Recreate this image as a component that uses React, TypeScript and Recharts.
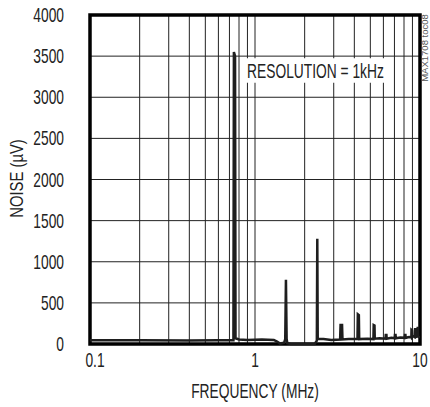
import React from 'react';
import {
  LineChart,
  Line,
  XAxis,
  YAxis,
  CartesianGrid,
  ReferenceArea,
} from 'recharts';

// Frequency (MHz) and noise (µV)
const freqMHz = [
  0.1, 0.2, 0.4, 0.6, 0.74, 0.745, 0.757, 0.762, 0.8, 0.9, 1.1, 1.3, 1.36, 1.42, 1.5,
  1.525, 1.54, 1.555, 1.57, 1.65, 2.0, 2.3, 2.37, 2.385, 2.4, 2.6, 2.9,
  3.28, 3.3, 3.37, 3.39, 3.7, 4.18, 4.2, 4.26, 4.28, 4.8, 5.22, 5.24, 5.3, 5.32, 5.7,
  6.18, 6.2, 6.26, 6.28, 6.7, 7.03, 7.05, 7.11, 7.13, 7.6, 8.08, 8.1, 8.16, 8.18, 8.6,
  8.86, 8.88, 8.94, 8.96, 9.1, 9.3, 9.33, 9.37, 9.4, 9.6, 9.68, 9.72, 9.75, 10,
];
const noiseUV = [
  45, 45, 42, 45, 45, 3550, 3500, 70, 55, 50, 55, 50, 30, 5, 15,
  60, 780, 60, 10, 0, 0, 0, 40, 1280, 60, 60, 50,
  55, 230, 230, 55, 60, 60, 360, 350, 60, 65, 60, 230, 225, 65, 70,
  65, 110, 110, 65, 75, 70, 110, 110, 70, 80, 75, 110, 110, 75, 85,
  80, 170, 165, 80, 95, 85, 180, 180, 85, 90, 195, 195, 90, 80,
];

const xTicks = [0.1, 0.2, 0.3, 0.4, 0.5, 0.6, 0.7, 0.8, 0.9, 1, 2, 3, 4, 5, 6, 7, 8, 9, 10];
const xTickLabels = ['0.1', '1', '10'];
const yTicks = [0, 500, 1000, 1500, 2000, 2500, 3000, 3500, 4000];

// annotation box extent (data coords)
const noteX = [0.823, 6.4];
const noteY = [3177, 3473];
const noteText = 'RESOLUTION = 1kHz';

const data = freqMHz.map((f, i) => ({ f, n: noiseUV[i] }));

const FONT = "'Liberation Sans', Arial, Helvetica, sans-serif";
const SIZE = 20;
const SX = 0.69;
const INK = '#222';

const XTick = (p: any) => {
  const s = String(p.payload?.value);
  if (!xTickLabels.includes(s)) return <g />;
  const dx = s === '0.1' ? 5 : 0;
  return (
    <text
      transform={`translate(${p.x + dx} ${p.y}) scale(${SX} 1)`}
      textAnchor="middle"
      fontSize={SIZE}
      fontFamily={FONT}
      fill={INK}
    >
      {s}
    </text>
  );
};

const YTick = (p: any) => (
  <text
    transform={`translate(${p.x} ${p.y + 7}) scale(${SX} 1)`}
    textAnchor="end"
    fontSize={SIZE}
    fontFamily={FONT}
    fill={INK}
  >
    {String(p.payload?.value)}
  </text>
);

export default function App() {
  return (
    <div style={{ position: 'absolute', left: 0, top: 0, width: 430, height: 407, background: '#fff' }}>
      <LineChart
        width={430}
        height={407}
        data={data}
        margin={{ top: 15, right: 10, bottom: 33, left: 30 }}
      >
        <CartesianGrid stroke="#222" strokeWidth={1} verticalValues={xTicks} horizontalValues={yTicks} />
        <XAxis
          dataKey="f"
          type="number"
          scale="log"
          domain={[0.1, 10]}
          allowDataOverflow
          ticks={xTicks}
          interval={0}
          tickLine={false}
          axisLine={false}
          tickSize={0}
          tickMargin={23}
          height={30}
          tick={XTick}
          label={{
            content: (props: any) => {
              const vb = props.viewBox || {};
              const cx = (vb.x ?? 90) + (vb.width ?? 330) / 2;
              return (
                <text
                  transform={`translate(${cx} 398) scale(${SX} 1)`}
                  textAnchor="middle"
                  fontSize={SIZE}
                  fontFamily={FONT}
                  fill={INK}
                >
                  FREQUENCY (MHz)
                </text>
              );
            },
          }}
        />
        <YAxis
          type="number"
          domain={[0, 4000]}
          ticks={yTicks}
          interval={0}
          tickLine={false}
          axisLine={false}
          tickSize={0}
          tickMargin={26}
          width={60}
          tick={YTick}
          label={{
            content: (props: any) => {
              const vb = props.viewBox || {};
              const cy = (vb.y ?? 15) + (vb.height ?? 329) / 2 - 1;
              return (
                <text
                  transform={`translate(23 ${cy}) rotate(-90) scale(0.78 1)`}
                  textAnchor="middle"
                  fontSize={19}
                  fontFamily={FONT}
                  fill={INK}
                >
                  NOISE (µV)
                </text>
              );
            },
          }}
        />
        <ReferenceArea
          x1={noteX[0]}
          x2={noteX[1]}
          y1={noteY[0]}
          y2={noteY[1]}
          fill="#fff"
          fillOpacity={1}
          stroke="none"
          label={{
            content: (props: any) => {
              const vb = props.viewBox || {};
              const x = (vb.x ?? 241) + 6;
              const y = (vb.y ?? 58) + (vb.height ?? 24) / 2 + 7.3;
              return (
                <text
                  transform={`translate(${x} ${y}) scale(${SX} 1)`}
                  textAnchor="start"
                  fontSize={SIZE}
                  fontFamily={FONT}
                  fill={INK}
                >
                  {noteText}
                </text>
              );
            },
          }}
        />
        <Line
          dataKey="n"
          type="linear"
          stroke="#1e1e1e"
          strokeWidth={2.5}
          dot={false}
          activeDot={false}
          isAnimationActive={false}
        />
        <ReferenceArea
          x1={0.1}
          x2={10}
          y1={0}
          y2={4000}
          fill="none"
          stroke="#000"
          strokeWidth={3.5}
        />
      </LineChart>
      <svg width={430} height={407} style={{ position: 'absolute', left: 0, top: 0, pointerEvents: 'none' }}>
        <text
          transform="translate(428 48) rotate(-90)"
          textAnchor="middle"
          fontSize={9.5}
          fontFamily={FONT}
          fill="#555"
        >
          MAX1708 toc08
        </text>
      </svg>
    </div>
  );
}
